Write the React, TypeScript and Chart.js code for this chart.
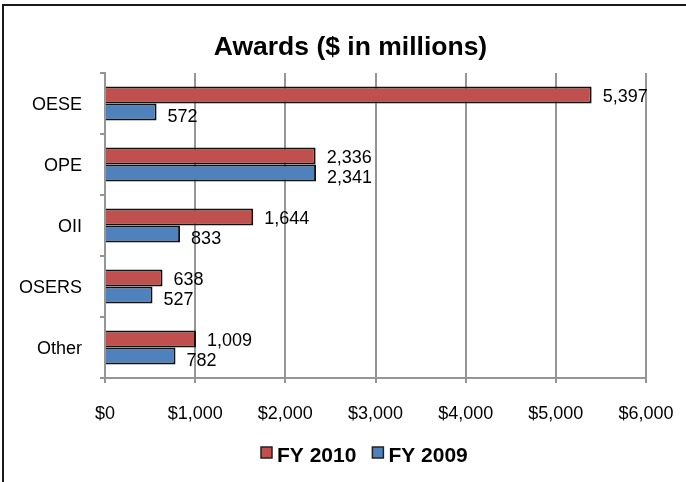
import React, { useEffect, useRef } from "react";
import { Chart, registerables } from "chart.js";

Chart.register(...registerables);

// ---- Data ----
const TITLE = "Awards ($ in millions)";
const CATEGORIES = ["OESE", "OPE", "OII", "OSERS", "Other"];
const SERIES_NAMES = ["FY 2010", "FY 2009"];
const FY2010 = [5397, 2336, 1644, 638, 1009];
const FY2009 = [572, 2341, 833, 527, 782];
const X_MIN = 0;
const X_MAX = 6000;
const X_STEP = 1000;

// ---- Styles ----
const FONT = "'Liberation Sans', Arial, Helvetica, sans-serif";
const RED = "#C0504D";
const BLUE = "#4F81BD";
const GRID = "#959595";
const W = 686;
const H = 482;

const chromePlugin = {
  id: "chrome",
  afterDatasetsDraw(chart: any) {
    const ctx = chart.ctx as CanvasRenderingContext2D;
    ctx.save();
    // value labels
    ctx.font = `18px ${FONT}`;
    ctx.fillStyle = "#000";
    ctx.textAlign = "left";
    ctx.textBaseline = "middle";
    chart.data.datasets.forEach((ds: any, di: number) => {
      const meta = chart.getDatasetMeta(di);
      meta.data.forEach((el: any, i: number) => {
        const v = ds.data[i] as number;
        ctx.fillText(v.toLocaleString("en-US"), el.x + 11, el.y + (di === 0 ? 2.5 : 5));
      });
    });
    ctx.restore();
  },
  afterDraw(chart: any) {
    const ctx = chart.ctx as CanvasRenderingContext2D;
    ctx.save();
    // title
    ctx.font = `bold 26.5px ${FONT}`;
    ctx.fillStyle = "#000";
    ctx.textAlign = "center";
    ctx.textBaseline = "alphabetic";
    ctx.fillText(TITLE, 350.5, 55);
    // legend
    ctx.font = `bold 21px ${FONT}`;
    ctx.textAlign = "left";
    let x = 261;
    const boxY = 447;
    chart.data.datasets.forEach((ds: any) => {
      ctx.fillStyle = ds.backgroundColor;
      ctx.fillRect(x, boxY, 11, 11);
      ctx.strokeStyle = "#222";
      ctx.lineWidth = 1.5;
      ctx.strokeRect(x, boxY, 11, 11);
      ctx.fillStyle = "#000";
      const tx = x + 16;
      ctx.fillText(ds.label, tx, 461.5);
      x = tx + ctx.measureText(ds.label).width + 16;
    });
    ctx.restore();
  },
};

export default function App() {
  const ref = useRef<HTMLCanvasElement | null>(null);

  useEffect(() => {
    if (!ref.current) return;
    const chart = new Chart(ref.current, {
      type: "bar",
      data: {
        labels: CATEGORIES,
        datasets: [
          {
            label: SERIES_NAMES[0],
            data: FY2010,
            backgroundColor: RED,
            borderColor: "#111",
            borderWidth: 2,
            categoryPercentage: 0.56,
            barPercentage: 1,
          },
          {
            label: SERIES_NAMES[1],
            data: FY2009,
            backgroundColor: BLUE,
            borderColor: "#111",
            borderWidth: 2,
            categoryPercentage: 0.56,
            barPercentage: 1,
          },
        ],
      },
      options: {
        indexAxis: "y",
        animation: false,
        responsive: false,
        devicePixelRatio: 1,
        layout: { padding: { left: 0, top: 73, right: 40, bottom: 0 } },
        plugins: {
          legend: { display: false },
          title: { display: false },
          tooltip: { enabled: false },
        },
        scales: {
          x: {
            type: "linear",
            min: X_MIN,
            max: X_MAX,
            ticks: {
              stepSize: X_STEP,
              padding: 20,
              color: "#000",
              font: { family: FONT, size: 18 },
              callback: (v: any) => "$" + Number(v).toLocaleString("en-US"),
            },
            grid: {
              color: GRID,
              lineWidth: 2,
              tickLength: 5,
              drawTicks: true,
            },
            border: { display: true, color: GRID, width: 2 },
            afterFit: (scale: any) => {
              scale.height = 104;
              scale.paddingLeft = 0;
              scale.paddingRight = 0;
            },
          },
          y: {
            type: "category",
            ticks: {
              padding: 18,
              labelOffset: 2,
              color: "#000",
              font: { family: FONT, size: 18 },
            },
            grid: {
              offset: true,
              drawOnChartArea: false,
              drawTicks: true,
              tickLength: 5,
              color: GRID,
              lineWidth: 2,
            },
            border: { display: true, color: GRID, width: 2 },
            afterFit: (scale: any) => {
              scale.width = 105;
              scale.paddingTop = 0;
              scale.paddingBottom = 0;
            },
          },
        },
      },
      plugins: [chromePlugin],
    } as any);
    return () => chart.destroy();
  }, []);

  return (
    <div
      style={{
        position: "fixed",
        left: 0,
        top: 0,
        width: W,
        height: H,
        overflow: "hidden",
        background: "#fff",
      }}
    >
      <canvas
        ref={ref}
        width={W}
        height={H}
        style={{ position: "absolute", left: 0, top: 0, width: W, height: H }}
      />
      <div
        style={{
          position: "absolute",
          left: 2,
          top: 4,
          width: W,
          height: H,
          borderLeft: "2px solid #1a1a1a",
          borderTop: "2px solid #1a1a1a",
          pointerEvents: "none",
        }}
      />
    </div>
  );
}
